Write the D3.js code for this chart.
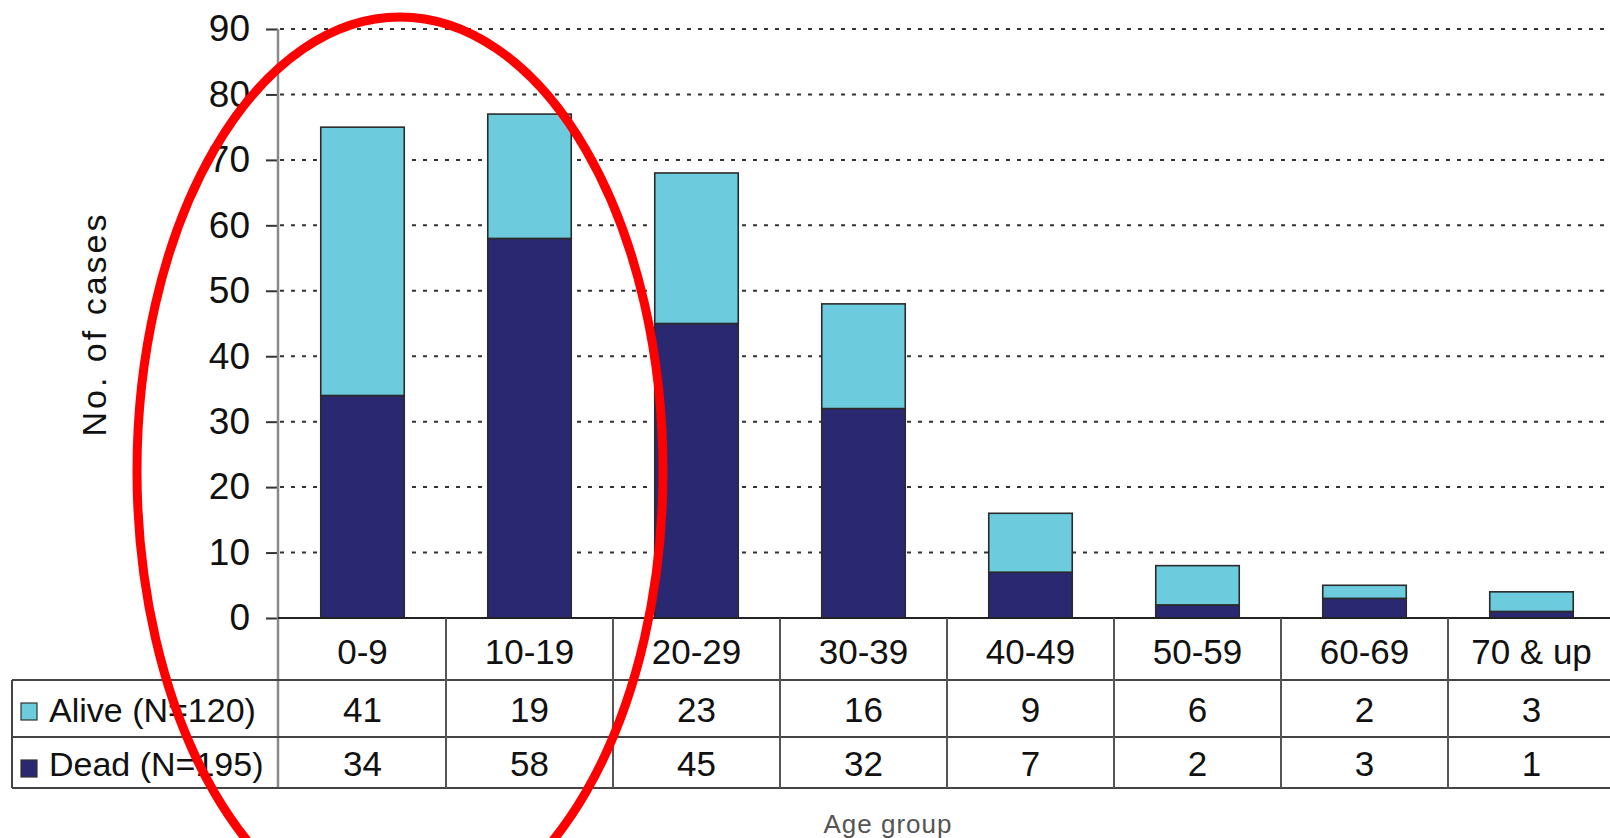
<!DOCTYPE html>
<html>
<head>
<meta charset="utf-8">
<script src="https://cdn.jsdelivr.net/npm/d3@7"></script>
<style>
  html, body { margin: 0; padding: 0; background: #fff; }
  svg { display: block; font-family: "Liberation Sans", Arial, sans-serif; }
</style>
</head>
<body>
<svg id="chart" width="1610" height="838"></svg>
<script>
const categories = ["0-9", "10-19", "20-29", "30-39", "40-49", "50-59", "60-69", "70 & up"];
const alive = [41, 19, 23, 16, 9, 6, 2, 3];
const dead = [34, 58, 45, 32, 7, 2, 3, 1];
const yTicks = [0, 10, 20, 30, 40, 50, 60, 70, 80, 90];
const seriesNames = ["Alive (N=120)", "Dead (N=195)"];
const seriesColors = ["#6ccbdc", "#2a2870"];

const svg = d3.select("#chart");
svg.append("rect").attr("width", 1610).attr("height", 838).attr("fill", "#fff");

const x0 = 279, step = 167;
const x = d3.scaleBand().domain(categories)
  .range([x0, x0 + step * categories.length])
  .paddingInner(0.5).paddingOuter(0.25);
const y = d3.scaleLinear().domain([0, 90]).range([618, 29]);

// gridlines
svg.append("g").selectAll("line").data(yTicks.filter(d => d > 0)).join("line")
  .attr("x1", 280).attr("x2", 1610)
  .attr("y1", d => y(d)).attr("y2", d => y(d))
  .attr("stroke", "#333").attr("stroke-width", 2)
  .attr("stroke-dasharray", "4,7");

// y axis
const yAxis = d3.axisLeft(y).tickValues(yTicks).tickSize(12).tickPadding(16);
const gy = svg.append("g").attr("transform", "translate(278,0)").call(yAxis);
gy.select(".domain").remove();
gy.selectAll(".tick line").attr("stroke", "#333").attr("stroke-width", 2);
gy.selectAll(".tick text").attr("font-size", 37).attr("fill", "#111")
  .attr("font-family", "'Liberation Sans', Arial, sans-serif");
svg.append("line").attr("x1", 278).attr("x2", 278).attr("y1", y(90)).attr("y2", 788)
  .attr("stroke", "#8a8a8a").attr("stroke-width", 2.5);

// stacked bars
const stackData = categories.map((c, i) => ({ cat: c, dead: dead[i], alive: alive[i] }));
const stack = d3.stack().keys(["dead", "alive"])(stackData);
const colorOf = { dead: seriesColors[1], alive: seriesColors[0] };
svg.append("g").selectAll("g").data(stack).join("g")
  .attr("fill", d => colorOf[d.key])
  .selectAll("rect").data(d => d).join("rect")
  .attr("x", d => x(d.data.cat))
  .attr("width", x.bandwidth())
  .attr("y", d => y(d[1]))
  .attr("height", d => y(d[0]) - y(d[1]))
  .attr("stroke", "#2b2b2b").attr("stroke-width", 1.6);

// data table
const rowTop = 618, rowA = 680, rowB = 737, rowEnd = 788;
const tbl = svg.append("g").attr("stroke", "#444").attr("stroke-width", 2);
tbl.append("line").attr("x1", 278).attr("x2", 1610).attr("y1", rowTop).attr("y2", rowTop).attr("stroke", "#222");
[rowA, rowB, rowEnd].forEach(yy => {
  tbl.append("line").attr("x1", 12).attr("x2", 1610).attr("y1", yy).attr("y2", yy);
});
tbl.append("line").attr("x1", 12).attr("x2", 12).attr("y1", rowA).attr("y2", rowEnd);
d3.range(1, categories.length + 1).forEach(i => {
  tbl.append("line").attr("x1", x0 + i * step).attr("x2", x0 + i * step)
    .attr("y1", rowTop).attr("y2", rowEnd).attr("stroke", "#555");
});

const txt = svg.append("g").attr("fill", "#111").attr("font-size", 35).attr("text-anchor", "middle");
categories.forEach((c, i) => {
  const cx = x(c) + x.bandwidth() / 2;
  txt.append("text").attr("x", cx).attr("y", 664).text(c);
  txt.append("text").attr("x", cx).attr("y", 722).text(alive[i]);
  txt.append("text").attr("x", cx).attr("y", 776).text(dead[i]);
});

// legend in table
[[seriesNames[0], seriesColors[0], 703, 722], [seriesNames[1], seriesColors[1], 760, 776]].forEach(([name, col, sy, ty]) => {
  svg.append("rect").attr("x", 21).attr("y", sy).attr("width", 16).attr("height", 17)
    .attr("fill", col).attr("stroke", "#333").attr("stroke-width", 1.2);
  svg.append("text").attr("x", 49).attr("y", ty).attr("font-size", 34).attr("fill", "#111").text(name);
});

// axis titles
svg.append("text").attr("transform", "translate(106,324) rotate(-90)")
  .attr("text-anchor", "middle").attr("font-size", 34).attr("letter-spacing", 3)
  .attr("fill", "#111").text("No. of cases");
svg.append("text").attr("x", 888).attr("y", 833).attr("text-anchor", "middle")
  .attr("font-size", 26).attr("letter-spacing", 1).attr("fill", "#555").text("Age group");

// red annotation ellipse
svg.append("ellipse").attr("cx", 400).attr("cy", 471).attr("rx", 263).attr("ry", 454)
  .attr("fill", "none").attr("stroke", "#ff0000").attr("stroke-width", 9);
</script>
</body>
</html>
